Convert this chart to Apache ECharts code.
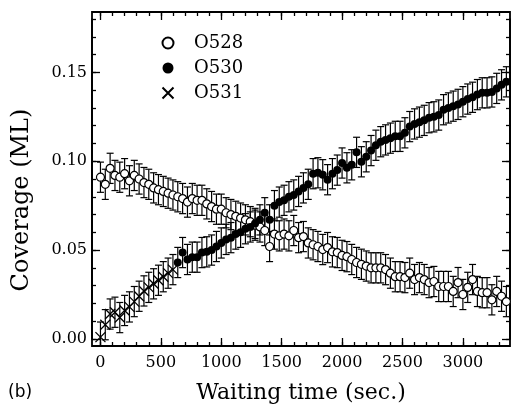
<!DOCTYPE html>
<html>
<head>
<meta charset="utf-8">
<script src="https://cdn.jsdelivr.net/npm/echarts@6/dist/echarts.min.js"></script>
<style>
  html, body { margin: 0; padding: 0; background: #fff; }
  #chart { width: 511px; height: 411px; }
</style>
</head>
<body>
<div id="chart"></div>
<script>
// waiting time (sec.)
const time528 = [0, 40, 80, 120, 160, 200, 240, 280, 320, 360, 400, 440, 480, 520, 560, 600, 640, 680, 720, 760,
  800, 840, 880, 920, 960, 1000, 1040, 1080, 1120, 1160, 1200, 1240, 1280, 1320, 1360, 1400, 1440, 1480, 1520, 1560,
  1600, 1640, 1680, 1720, 1760, 1800, 1840, 1880, 1920, 1960, 2000, 2040, 2080, 2120, 2160, 2200, 2240, 2280, 2320, 2360,
  2400, 2440, 2480, 2520, 2560, 2600, 2640, 2680, 2720, 2760, 2800, 2840, 2880, 2920, 2960, 3000, 3040, 3080, 3120, 3160,
  3200, 3240, 3280, 3320, 3360]
const cov528 = [0.091, 0.087, 0.096, 0.092, 0.091, 0.093, 0.089, 0.092, 0.090, 0.088, 0.087, 0.085, 0.084, 0.083, 0.082, 0.081, 0.080, 0.079, 0.077, 0.079,
  0.078, 0.078, 0.076, 0.0745, 0.073, 0.073, 0.071, 0.070, 0.069, 0.068, 0.067, 0.066, 0.064, 0.063, 0.061, 0.052, 0.059, 0.058, 0.059, 0.058,
  0.061, 0.057, 0.0576, 0.054, 0.053, 0.052, 0.0503, 0.0514, 0.049, 0.0486, 0.047, 0.0463, 0.0447, 0.043, 0.042, 0.041, 0.040, 0.040, 0.040, 0.039,
  0.037, 0.035, 0.035, 0.0345, 0.037, 0.0334, 0.0345, 0.0334, 0.0317, 0.0323, 0.0295, 0.0295, 0.0295, 0.0267, 0.0317, 0.025, 0.029, 0.0334, 0.0267, 0.026,
  0.026, 0.022, 0.0267, 0.024, 0.021]

const time530 = [640, 680, 720, 760, 800, 840, 880, 920, 960, 1000, 1040, 1080, 1120, 1160, 1200, 1240, 1280, 1320, 1360, 1400,
  1440, 1480, 1520, 1560, 1600, 1640, 1680, 1720, 1760, 1800, 1840, 1880, 1920, 1960, 2000, 2040, 2080, 2120, 2160, 2200,
  2240, 2280, 2320, 2360, 2400, 2440, 2480, 2520, 2560, 2600, 2640, 2680, 2720, 2760, 2800, 2840, 2880, 2920, 2960, 3000,
  3040, 3080, 3120, 3160, 3200, 3240, 3280, 3320, 3360]
const cov530 = [0.043, 0.0486, 0.0447, 0.046, 0.046, 0.0486, 0.049, 0.050, 0.052, 0.054, 0.056, 0.057, 0.059, 0.060, 0.062, 0.063, 0.065, 0.067, 0.071, 0.067,
  0.075, 0.077, 0.078, 0.080, 0.081, 0.083, 0.085, 0.087, 0.093, 0.0935, 0.0924, 0.0896, 0.093, 0.095, 0.099, 0.0963, 0.098, 0.105, 0.0997, 0.1025,
  0.106, 0.109, 0.111, 0.112, 0.113, 0.114, 0.114, 0.116, 0.1195, 0.121, 0.122, 0.123, 0.1245, 0.125, 0.126, 0.129, 0.130, 0.131, 0.132, 0.1335,
  0.135, 0.136, 0.1375, 0.1385, 0.1385, 0.139, 0.141, 0.143, 0.1447]

const time531 = [0, 40, 80, 120, 160, 200, 240, 280, 320, 360, 400, 440, 480, 520, 560, 600]
const cov531 = [0.001, 0.008, 0.014, 0.015, 0.012, 0.016, 0.018, 0.021, 0.024, 0.027, 0.029, 0.031, 0.033, 0.035, 0.037, 0.039]

// +/- error on every point (ML)
const errBar = 0.0085

// tick layout: [first, last, step]
const xMajorTicks = [0, 3000, 500]
const xMinorTicks = [0, 3300, 100]
const yMajorTicks = [0, 0.15, 0.05]
const yMinorTicks = [0, 0.18, 0.01]

const serif = 'DejaVu Serif'
const xRange = [-70, 3390]
const yRange = [-0.004, 0.184]

// plot frame in pixels
const frame = { left: 92, right: 510, top: 12, bottom: 346 }
const W = 511, H = 411

function xPx(v) {
  return frame.left + (v - xRange[0]) / (xRange[1] - xRange[0]) * (frame.right - frame.left)
}
function yPx(v) {
  return frame.bottom - (v - yRange[0]) / (yRange[1] - yRange[0]) * (frame.bottom - frame.top)
}

// extra grids that share the data scale, so ticks can start from a round value
function xTickGrid(t) {
  return { left: xPx(t[0]), right: W - xPx(t[1]), top: frame.top, bottom: H - frame.bottom }
}
function yTickGrid(t) {
  return { left: frame.left, right: W - frame.right, top: yPx(t[1]), bottom: H - yPx(t[0]) }
}

function pairs(times, values) {
  return times.map((t, i) => [t, values[i]])
}

function bars(times, values) {
  return times.map((t, i) => [t, values[i], values[i] - errBar, values[i] + errBar])
}

function errorSeries(times, values) {
  return {
    type: 'custom',
    z: 1,
    silent: true,
    clip: true,
    data: bars(times, values),
    renderItem: (params, api) => {
      const top = api.coord([api.value(0), api.value(3)])
      const bot = api.coord([api.value(0), api.value(2)])
      const hw = 3.5
      const style = { stroke: '#000', lineWidth: 1.2 }
      return {
        type: 'group',
        children: [
          { type: 'line', shape: { x1: top[0], y1: top[1], x2: bot[0], y2: bot[1] }, style },
          { type: 'line', shape: { x1: top[0] - hw, y1: top[1], x2: top[0] + hw, y2: top[1] }, style },
          { type: 'line', shape: { x1: bot[0] - hw, y1: bot[1], x2: bot[0] + hw, y2: bot[1] }, style }
        ]
      }
    }
  }
}

const lineStyle = { color: '#000', width: 1.8 }

function tickAxis(gridIndex, position, t, len, label) {
  return {
    type: 'value',
    gridIndex,
    position,
    min: t[0],
    max: t[1],
    interval: t[2],
    axisLine: { show: true, onZero: false, lineStyle },
    axisTick: { show: true, inside: true, length: len, lineStyle: { color: '#000', width: 1.3 } },
    axisLabel: label || { show: false },
    splitLine: { show: false }
  }
}

function hiddenAxis(gridIndex) {
  return { type: 'value', gridIndex, show: false, splitLine: { show: false } }
}

const chart = echarts.init(document.getElementById('chart'), null, { width: W, height: H })

chart.setOption({
  animation: false,
  grid: [
    { left: frame.left, right: W - frame.right, top: frame.top, bottom: H - frame.bottom,
      show: true, borderColor: '#000', borderWidth: 1.8, outerBoundsMode: 'none' },
    { ...xTickGrid(xMajorTicks), outerBoundsMode: 'none' },
    { ...xTickGrid(xMinorTicks), outerBoundsMode: 'none' },
    { ...yTickGrid(yMajorTicks), outerBoundsMode: 'none' },
    { ...yTickGrid(yMinorTicks), outerBoundsMode: 'none' }
  ],
  xAxis: [
    {
      type: 'value', gridIndex: 0, min: xRange[0], max: xRange[1],
      axisLine: { show: false }, axisTick: { show: false }, axisLabel: { show: false }, splitLine: { show: false },
      name: 'Waiting time (sec.)', nameLocation: 'middle', nameGap: 36,
      nameTextStyle: { color: '#000', fontFamily: serif, fontSize: 22 }
    },
    tickAxis(1, 'bottom', xMajorTicks, 8, {
      show: true, margin: 9, color: '#000', fontFamily: serif, fontSize: 16,
      formatter: (v) => String(v)
    }),
    tickAxis(1, 'top', xMajorTicks, 8),
    tickAxis(2, 'bottom', xMinorTicks, 4),
    tickAxis(2, 'top', xMinorTicks, 4),
    hiddenAxis(3),
    hiddenAxis(4)
  ],
  yAxis: [
    {
      type: 'value', gridIndex: 0, min: yRange[0], max: yRange[1],
      axisLine: { show: false }, axisTick: { show: false }, axisLabel: { show: false }, splitLine: { show: false },
      name: 'Coverage (ML)', nameLocation: 'middle', nameGap: 58,
      nameTextStyle: { color: '#000', fontFamily: serif, fontSize: 24, padding: [0, 42, 0, 0] }
    },
    tickAxis(3, 'left', yMajorTicks, 8, {
      show: true, margin: 5, color: '#000', fontFamily: serif, fontSize: 16,
      formatter: (v) => v.toFixed(2)
    }),
    tickAxis(3, 'right', yMajorTicks, 8),
    tickAxis(4, 'left', yMinorTicks, 4),
    tickAxis(4, 'right', yMinorTicks, 4),
    hiddenAxis(1),
    hiddenAxis(2)
  ],
  legend: {
    orient: 'vertical',
    left: 155,
    top: 29,
    itemWidth: 42,
    itemHeight: 11,
    itemGap: 7,
    selectedMode: false,
    textStyle: { color: '#000', fontFamily: serif, fontSize: 18, lineHeight: 18 },
    data: ['O528', 'O530', 'O531']
  },
  graphic: [
    {
      type: 'text', left: 8, top: 384,
      style: { text: '(b)', fill: '#000', font: '17px "DejaVu Sans"' }
    }
  ],
  series: [
    errorSeries(time528, cov528),
    errorSeries(time530, cov530),
    errorSeries(time531, cov531),
    {
      name: 'O528',
      type: 'scatter',
      z: 3,
      symbol: 'circle',
      symbolSize: 8,
      itemStyle: { color: '#fff', borderColor: '#000', borderWidth: 1.2, opacity: 1 },
      data: pairs(time528, cov528)
    },
    {
      name: 'O530',
      type: 'scatter',
      z: 3,
      symbol: 'circle',
      symbolSize: 8,
      itemStyle: { color: '#000', opacity: 1 },
      data: pairs(time530, cov530)
    },
    {
      name: 'O531',
      type: 'scatter',
      z: 3,
      symbol: 'path://M0,0L10,10M0,10L10,0',
      symbolSize: 10,
      itemStyle: { color: 'none', borderColor: '#000', borderWidth: 1.3, opacity: 1 },
      data: pairs(time531, cov531)
    }
  ]
})
</script>
</body>
</html>
